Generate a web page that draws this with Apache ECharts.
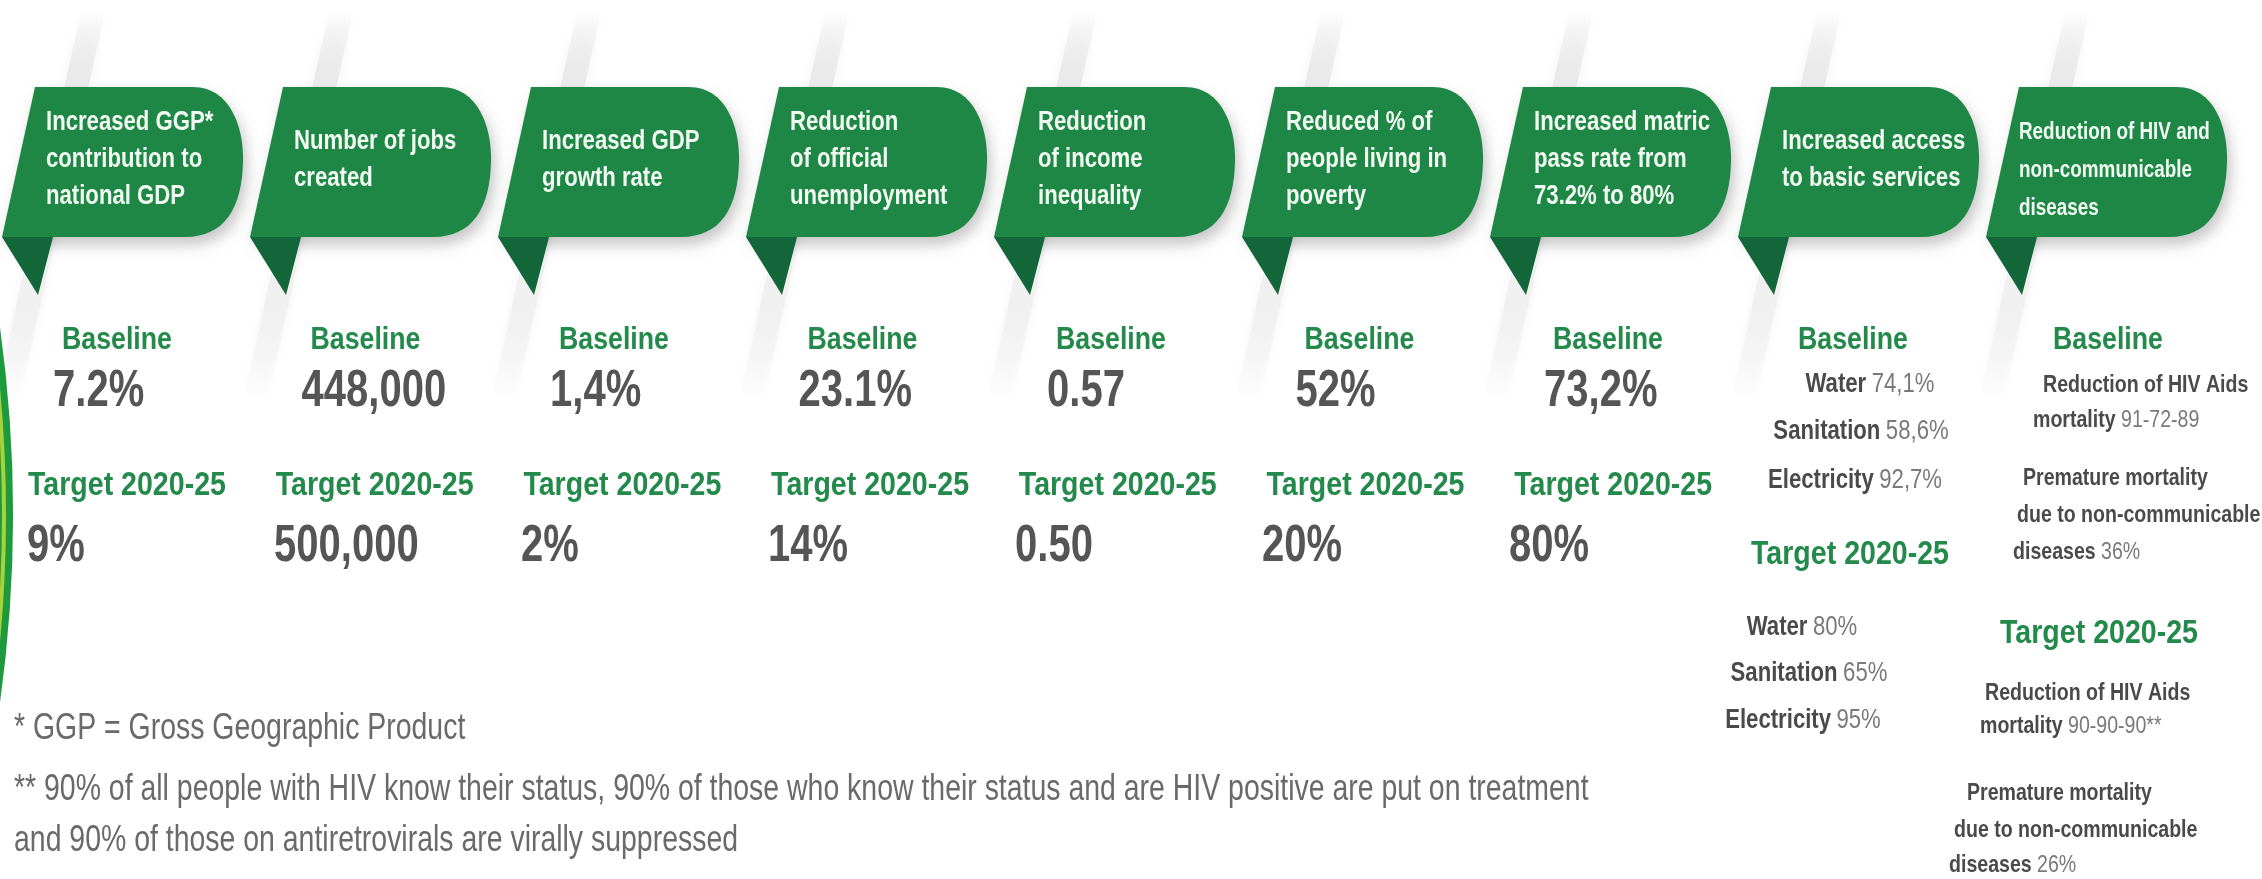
<!DOCTYPE html>
<html>
<head>
<meta charset="utf-8">
<script src="https://cdn.jsdelivr.net/npm/echarts@6/dist/echarts.min.js"></script>
<style>
  html, body { margin: 0; padding: 0; background: #fff; }
  #chart { width: 2262px; height: 879px; }
</style>
</head>
<body>
<div id="chart"></div>
<script>
// banner titles, one per column
const categories = [
    'Increased GGP*\ncontribution to\nnational GDP',
    'Number of jobs\ncreated',
    'Increased GDP\ngrowth rate',
    'Reduction\nof official\nunemployment',
    'Reduction\nof income\ninequality',
    'Reduced % of\npeople living in\npoverty',
    'Increased matric\npass rate from\n73.2% to 80%',
    'Increased access\nto basic services',
    'Reduction of HIV and\nnon-communicable\ndiseases'
];
const baselineValues = ['7.2%', '448,000', '1,4%', '23.1%', '0.57', '52%', '73,2%'];
const targetValues = ['9%', '500,000', '2%', '14%', '0.50', '20%', '80%'];
const servicesBaseline = [['Water', '74,1%'], ['Sanitation', '58,6%'], ['Electricity', '92,7%']];
const servicesTarget = [['Water', '80%'], ['Sanitation', '65%'], ['Electricity', '95%']];
const hivBaseline = [
    ['Reduction of HIV Aids', ''], ['mortality', '91-72-89'],
    ['Premature mortality', ''], ['due to non-communicable', ''], ['diseases', '36%']
];
const hivTarget = [
    ['Reduction of HIV Aids', ''], ['mortality', '90-90-90**'],
    ['Premature mortality', ''], ['due to non-communicable', ''], ['diseases', '26%']
];
const baselineTitle = 'Baseline';
const targetTitle = 'Target 2020-25';
const footnotes = [
    '* GGP = Gross Geographic Product',
    '** 90% of all people with HIV know their status, 90% of those who know their status and are HIV positive are put on treatment',
    'and 90% of those on antiretrovirals are virally suppressed'
];

// layout
const FONT = "'Liberation Sans', Arial, sans-serif";
const NARROW = 0.82; // horizontal squeeze to get a condensed face
const GREEN = '#1e8746';
const DARK_GREEN = '#13663a';
const LABEL_GREEN = '#238a4b';
const GREY = '#555555';
const COL0 = 35;
const STEP = 248;
const TOP = 87;
const BOTTOM = 237;
const servBaseX = [1870, 1861, 1855];
const servBaseY = [385, 432, 481];
const servTargetX = [1802, 1809, 1803];
const servTargetY = [628, 674, 721];
const hivBaseLeft = [2043, 2033, 2023, 2017, 2013];
const hivBaseY = [385, 420, 478, 515, 552];
const hivTargetLeft = [1985, 1980, 1967, 1954, 1949];
const hivTargetY = [693, 726, 793, 830, 865];

const elements = [];

function text(x, y, str, opts) {
    const o = opts || {};
    elements.push({
        type: 'text',
        x: x,
        y: y,
        z: 10,
        scaleX: o.scaleX || NARROW,
        style: Object.assign({
            text: str,
            fill: o.fill || GREY,
            fontSize: o.fontSize || 24,
            fontWeight: o.fontWeight || 'normal',
            fontFamily: FONT,
            align: o.align || 'left',
            textAlign: o.align || 'left',
            verticalAlign: 'middle',
            textVerticalAlign: 'middle',
            lineHeight: o.lineHeight
        }, o.rich ? { rich: o.rich } : {})
    });
}

function richLine(pair) {
    return pair[1] ? '{b|' + pair[0] + '} {v|' + pair[1] + '}' : '{b|' + pair[0] + '}';
}

function lineRich(size) {
    return {
        b: { fontFamily: FONT, fontWeight: 'bold', fontSize: size, fill: '#4a4a4a' },
        v: { fontFamily: FONT, fontWeight: 'normal', fontSize: size, fill: '#7a7a7a' }
    };
}

const baseTitleStyle = { fill: LABEL_GREEN, fontSize: 32, fontWeight: 'bold', scaleX: 0.835 };
const targetTitleStyle = { fill: LABEL_GREEN, fontSize: 34, fontWeight: 'bold', scaleX: 0.84 };
const valueStyle = { fontSize: 52, fontWeight: 'bold', scaleX: 0.77 };

// sample a cubic bezier into points
function cubic(p0, p1, p2, p3, n) {
    const pts = [];
    for (let k = 1; k <= n; k++) {
        const t = k / n, u = 1 - t;
        pts.push([
            u * u * u * p0[0] + 3 * u * u * t * p1[0] + 3 * u * t * t * p2[0] + t * t * t * p3[0],
            u * u * u * p0[1] + 3 * u * u * t * p1[1] + 3 * u * t * t * p2[1] + t * t * t * p3[1]
        ]);
    }
    return pts;
}

// light folded ribbons behind banners
function ribbon(bl) {
    const cx = y => bl + 55 - 0.22 * (y - 25);
    const y1 = 10, y2 = 400, hw = 12;
    elements.push({
        type: 'polygon',
        z: 1,
        shape: { points: [[cx(y1) - hw, y1], [cx(y1) + hw, y1], [cx(y2) + hw, y2], [cx(y2) - hw, y2]] },
        style: {
            fill: {
                type: 'linear', x: 0, y: 0, x2: 0, y2: 1,
                colorStops: [
                    { offset: 0, color: 'rgba(232,232,232,0)' },
                    { offset: 0.15, color: 'rgba(234,234,234,1)' },
                    { offset: 0.75, color: 'rgba(240,240,240,1)' },
                    { offset: 1, color: 'rgba(240,240,240,0)' }
                ]
            },
            shadowBlur: 10,
            shadowColor: 'rgba(0,0,0,0.05)'
        }
    });
}

function banner(bl, label, i) {
    let pts = [[bl, TOP], [bl + 158, TOP]];
    pts = pts.concat(cubic([bl + 158, TOP], [bl + 195, TOP], [bl + 209, TOP + 40], [bl + 208, TOP + 75], 16));
    pts = pts.concat(cubic([bl + 208, TOP + 75], [bl + 207, BOTTOM - 30], [bl + 190, BOTTOM], [bl + 150, BOTTOM], 16));
    pts.push([bl - 33, BOTTOM]);
    elements.push({
        type: 'polygon',
        z: 3,
        shape: { points: pts },
        style: {
            fill: GREEN,
            shadowBlur: 14,
            shadowOffsetY: 8,
            shadowOffsetX: 4,
            shadowColor: 'rgba(0,0,0,0.22)'
        }
    });
    elements.push({
        type: 'polygon',
        z: 4,
        shape: { points: [[bl - 33, BOTTOM], [bl + 18, BOTTOM], [bl + 3, BOTTOM + 58]] },
        style: { fill: DARK_GREEN }
    });
    const small = i === 8;
    text(bl + (small ? 0 : 11), small ? 171 : 160, label, {
        fill: '#f2fbf2',
        fontSize: small ? 23 : 27,
        fontWeight: 'bold',
        lineHeight: small ? 38 : 37
    });
}

categories.forEach((label, i) => ribbon(COL0 + STEP * i));
categories.forEach((label, i) => banner(COL0 + STEP * i, label, i));

// simple columns
baselineValues.forEach((v, i) => {
    text(62 + 248.5 * i, 340, baselineTitle, baseTitleStyle);
    text(53 + 248.5 * i, 392, v, valueStyle);
    text(28 + 247.7 * i, 486, targetTitle, targetTitleStyle);
    text(27 + 247 * i, 547, targetValues[i], valueStyle);
});

// basic services column
text(1853, 340, baselineTitle, Object.assign({ align: 'center' }, baseTitleStyle));
servicesBaseline.forEach((p, k) => {
    text(servBaseX[k], servBaseY[k], richLine(p), { align: 'center', rich: lineRich(27), scaleX: 0.82 });
});
text(1850, 555, targetTitle, Object.assign({ align: 'center' }, targetTitleStyle));
servicesTarget.forEach((p, k) => {
    text(servTargetX[k], servTargetY[k], richLine(p), { align: 'center', rich: lineRich(27), scaleX: 0.82 });
});

// HIV column
text(2108, 340, baselineTitle, Object.assign({ align: 'center' }, baseTitleStyle));
hivBaseline.forEach((p, k) => {
    text(hivBaseLeft[k], hivBaseY[k], richLine(p), { rich: lineRich(24), scaleX: 0.815 });
});
text(2099, 634, targetTitle, Object.assign({ align: 'center' }, targetTitleStyle));
hivTarget.forEach((p, k) => {
    text(hivTargetLeft[k], hivTargetY[k], richLine(p), { rich: lineRich(24), scaleX: 0.815 });
});

// footnotes
const footY = [729, 790, 841];
footnotes.forEach((f, k) => {
    text(14, footY[k], f, { fontSize: 36, fill: '#6a6a6a', scaleX: 0.79 });
});

// green arc on the left edge
elements.push({
    type: 'arc',
    z: 2,
    shape: { cx: -1344, cy: 515, r: 1350, startAngle: -0.16, endAngle: 0.16 },
    style: { stroke: '#1e9a3e', lineWidth: 14, fill: null }
});
elements.push({
    type: 'arc',
    z: 2,
    shape: { cx: -1344, cy: 515, r: 1348, startAngle: -0.12, endAngle: 0.12 },
    style: { stroke: '#a8d13c', lineWidth: 4, fill: null }
});

const myChart = echarts.init(document.getElementById('chart'));
myChart.setOption({
    backgroundColor: '#ffffff',
    animation: false,
    graphic: { elements: elements }
});
</script>
</body>
</html>
